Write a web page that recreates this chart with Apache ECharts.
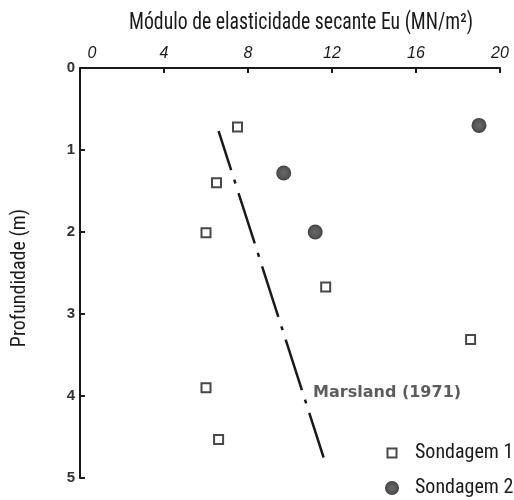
<!DOCTYPE html>
<html>
<head>
<meta charset="utf-8">
<script src="https://cdn.jsdelivr.net/npm/echarts@6/dist/echarts.min.js"></script>
<style>
html,body{margin:0;padding:0;background:#fff;}
#c{width:514px;height:500px;}
</style>
</head>
<body>
<div id="c"></div>
<script>
// ---- data ----
const xTicks = [0, 4, 8, 12, 16, 20];
const yTicks = [0, 1, 2, 3, 4, 5];
const sondagem1 = [[7.5, 0.72], [6.5, 1.40], [6.0, 2.01], [11.7, 2.67], [18.6, 3.31], [6.0, 3.90], [6.6, 4.53]];
const sondagem2 = [[9.7, 1.28], [11.2, 2.00], [19.0, 0.70]];
const marsland = [[6.6, 0.77], [11.6, 4.75]];
const marslandLabel = [[11.1, 3.96]];
const titleText = 'Módulo de elasticidade secante Eu (MN/m²)';
const yName = 'Profundidade (m)';
const seriesNames = ['Sondagem 1', 'Sondagem 2'];

const narrow = '"Roboto Condensed", "Liberation Sans Narrow", "DejaVu Sans", sans-serif';
const ink = '#1a1a1a';

// fit the condensed title to the reference width
const titleFont = '23px "Roboto Condensed", sans-serif';
const mctx = document.createElement('canvas').getContext('2d');
mctx.font = titleFont;
const titleScale = 344 / mctx.measureText(titleText).width;

const chart = echarts.init(document.getElementById('c'), null, {renderer: 'canvas'});
chart.setOption({
  backgroundColor: '#fff',
  animation: false,
  graphic: [{
    type: 'text', x: 129, y: 23, scaleX: titleScale, originX: 0,
    style: {text: titleText, font: titleFont, fill: ink, verticalAlign: 'middle'}
  }],
  grid: {left: 80, right: 14, top: 68, bottom: 22},
  legend: {
    orient: 'vertical',
    left: 384, top: 442, padding: 0,
    itemGap: 13, itemWidth: 14, itemHeight: 14,
    data: [
      {name: seriesNames[0], icon: 'path://M0,0M14,14M2.5,2.5h9v9h-9z'},
      {name: seriesNames[1], icon: 'circle'}
    ],
    textStyle: {fontFamily: narrow, fontSize: 20, color: ink, lineHeight: 22, padding: [0, 0, 0, 11]}
  },
  xAxis: {
    type: 'value', position: 'top',
    min: xTicks[0], max: xTicks[xTicks.length - 1], interval: xTicks[1] - xTicks[0],
    axisLine: {show: true, onZero: false, lineStyle: {color: ink, width: 2}},
    axisTick: {show: true, inside: true, length: 5, lineStyle: {color: ink, width: 2}},
    axisLabel: {
      fontFamily: 'Liberation Sans, sans-serif', fontStyle: 'italic', fontSize: 16, color: ink, margin: 6,
      formatter: function (v) { return v === xTicks[0] ? '{z|' + v + '}' : String(v); },
      rich: {z: {fontFamily: 'Liberation Sans, sans-serif', fontStyle: 'italic', fontSize: 16, color: ink, padding: [0, 0, 0, 24]}}
    },
    splitLine: {show: false}
  },
  yAxis: {
    type: 'value', inverse: true,
    min: yTicks[0], max: yTicks[yTicks.length - 1], interval: yTicks[1] - yTicks[0],
    name: yName, nameLocation: 'middle', nameRotate: 90, nameGap: 50,
    nameTextStyle: {fontFamily: narrow, fontSize: 20, color: ink, padding: [0, 10, 0, 0]},
    axisLine: {show: true, onZero: false, lineStyle: {color: ink, width: 2}},
    axisTick: {show: true, inside: true, length: 5, lineStyle: {color: ink, width: 2}},
    axisLabel: {fontFamily: 'Liberation Sans, sans-serif', fontWeight: 'bold', fontSize: 15, color: '#333', margin: 5},
    splitLine: {show: false}
  },
  series: [
    {
      name: seriesNames[0], type: 'scatter', data: sondagem1,
      symbol: 'rect', symbolSize: 9,
      itemStyle: {color: '#fff', borderColor: ink, borderWidth: 2}
    },
    {
      name: seriesNames[1], type: 'scatter', data: sondagem2,
      symbol: 'circle', symbolSize: 15,
      itemStyle: {color: new echarts.graphic.RadialGradient(0.5, 0.5, 0.5, [
        {offset: 0, color: '#444'}, {offset: 0.7, color: '#2a2a2a'}, {offset: 1, color: '#111'}
      ])}
    },
    {
      name: 'Marsland', type: 'line', data: marsland,
      symbol: 'none',
      lineStyle: {color: ink, width: 2.5, type: [53, 10, 4, 10], dashOffset: 12, cap: 'butt'},
      z: 1
    },
    {
      name: 'MarslandLabel', type: 'scatter', data: marslandLabel,
      symbolSize: 0,
      label: {show: true, position: 'right', distance: 0, formatter: 'Marsland (1971)',
        fontFamily: '"DejaVu Sans", sans-serif', fontSize: 16, fontWeight: 'bold', color: '#333'}
    }
  ]
});
</script>
</body>
</html>
